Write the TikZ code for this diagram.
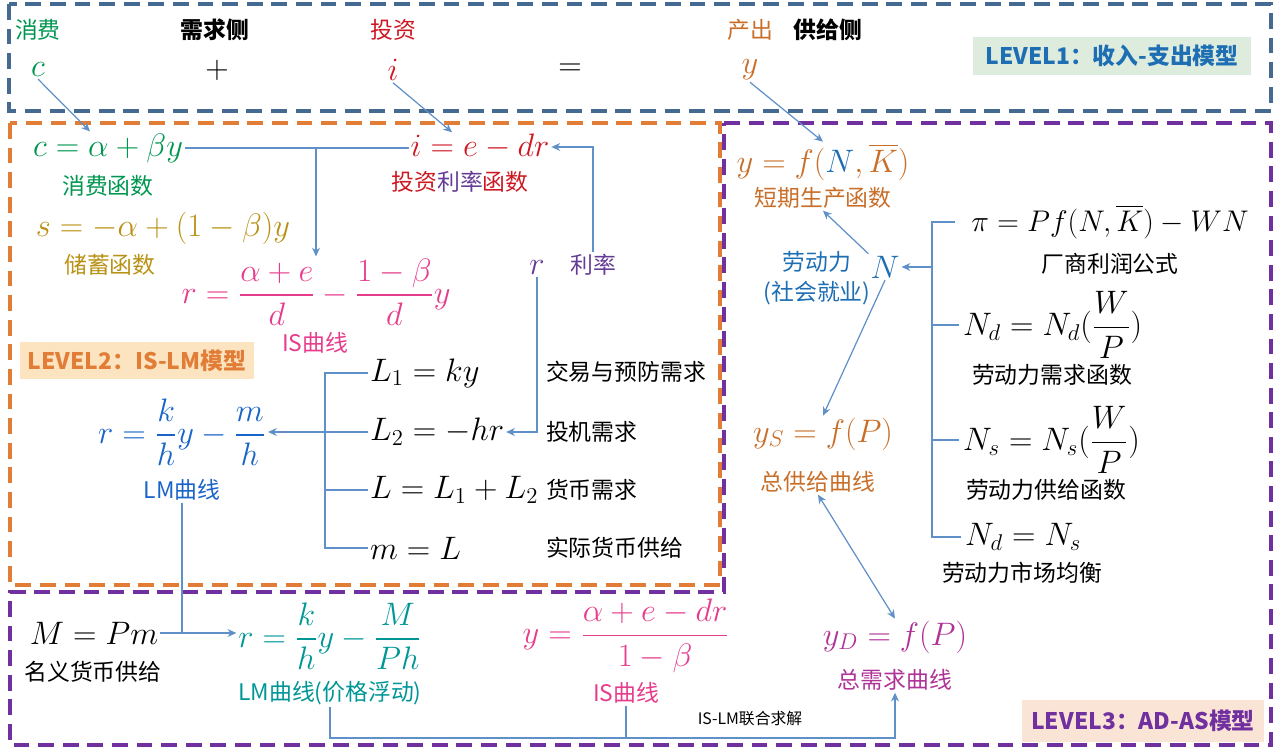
\RequirePackage{fix-cm}
\documentclass[tikz,border=0pt]{standalone}
\usepackage{amsmath}
\usepackage[no-math]{fontspec}
\setmainfont{Noto Sans CJK SC}
\usetikzlibrary{arrows.meta}

\definecolor{cgreen}{RGB}{0,150,80}
\definecolor{ired}{RGB}{205,25,35}
\definecolor{sgold}{RGB}{185,145,20}
\definecolor{ispink}{RGB}{230,60,140}
\definecolor{rpurple}{RGB}{100,60,150}
\definecolor{lmblue}{RGB}{25,100,200}
\definecolor{lmteal}{RGB}{0,150,150}
\definecolor{yorange}{RGB}{200,110,40}
\definecolor{nblue}{RGB}{30,110,180}
\definecolor{admag}{RGB}{175,50,150}
\definecolor{linkc}{RGB}{95,145,200}
\definecolor{lvonec}{RGB}{68,106,145}
\definecolor{lvtwoc}{RGB}{225,125,55}
\definecolor{lvthreec}{RGB}{112,48,160}
\definecolor{lvonebg}{RGB}{222,236,222}
\definecolor{lvonetxt}{RGB}{30,110,180}
\definecolor{lvtwobg}{RGB}{252,228,192}
\definecolor{lvthreebg}{RGB}{250,228,214}

\tikzset{
  >={Stealth[length=5pt,width=4.5pt]},
  zh/.style={font=\fontsize{13}{17}\selectfont, inner sep=1pt},
  zhb/.style={font=\fontsize{13}{17}\selectfont\bfseries, inner sep=1pt},
  fml/.style={font=\fontsize{18.5}{22}\selectfont, inner sep=1pt},
  link/.style={draw=linkc, line width=0.7pt},
  arr/.style={link, ->},
  darr/.style={link, <->},
  lvl/.style={font=\fontsize{13}{15}\selectfont\bfseries, inner sep=0pt},
  lvbox/.style={line width=1.8pt, dash pattern=on 9pt off 5pt},
}

\begin{document}
\begin{tikzpicture}[x=0.02cm, y=-0.02cm]
\useasboundingbox (0,0) rectangle (1276,749);

% frames
\draw[lvbox, draw=lvonec] (9,4) rectangle (1271,111);
\draw[lvbox, draw=lvtwoc] (10,123) rectangle (720,585);
\draw[lvbox, draw=lvthreec] (724,123) -- (1271,123) -- (1271,745) -- (10,745) -- (10,592) -- (724,592) -- cycle;

\node[lvl, fill=lvonebg, text=lvonetxt, minimum width=5.58cm, minimum height=0.76cm] (lvone) at (1112,56) {LEVEL1：收入-支出模型};
\node[lvl, fill=lvtwobg, text=lvtwoc, minimum width=4.7cm, minimum height=0.74cm] (lvtwo) at (137,361) {LEVEL2：IS-LM模型};
\node[lvl, fill=lvthreebg, text=lvthreec, minimum width=4.86cm, minimum height=0.84cm] (lvthree) at (1143,721) {LEVEL3：AD-AS模型};

% level 1
\node[zh, text=cgreen] (cword) at (38,30) {消费};
\node[zhb] (demand) at (215,30) {需求侧};
\node[zh, text=ired] (iword) at (393,30) {投资};
\node[zh, text=yorange] (yword) at (750,30) {产出};
\node[zhb] (supply) at (828,30) {供给侧};
\node[fml, text=cgreen] (c) at (38,70) {$c$};
\node[fml] (plus) at (217,70) {$+$};
\node[fml, text=ired] (i) at (393,70) {$i$};
\node[fml] (eq) at (570,70) {$=$};
\node[fml, text=yorange] (y) at (750,70) {$y$};

% level 2
\node[fml, text=cgreen] (cfun) at (108,148) {$c = \alpha + \beta y$};
\node[zh, text=cgreen] (cname) at (108,186) {消费函数};
\node[fml, text=sgold] (sfun) at (163,228) {$s = -\alpha + (1-\beta)y$};
\node[zh, text=sgold] (sname) at (110,265) {储蓄函数};
\node[fml, text=ired] (ifun) at (480,147) {$i = e - dr$};
\node[zh, text=ired] (iname) at (460,182) {投资{\color{rpurple}利率}函数};
\node[fml, text=ispink] (is) at (316,292) {$r = \dfrac{\alpha+e}{d} - \dfrac{1-\beta}{d}y$};
\node[zh, text=ispink] (isname) at (315,343) {IS曲线};
\node[fml, text=rpurple] (rsym) at (537,268) {$r$};
\node[zh, text=rpurple] (rate) at (593,265) {利率};
\node[fml, text=lmblue] (lm) at (182,432) {$r = \dfrac{k}{h}y - \dfrac{m}{h}$};
\node[zh, text=lmblue] (lmname) at (182,490) {LM曲线};
\node[fml, anchor=west] (Lone) at (368,373) {$L_1 = ky$};
\node[fml, anchor=west] (Ltwo) at (368,432) {$L_2 = -hr$};
\node[fml, anchor=west] (Lsum) at (368,490) {$L = L_1 + L_2$};
\node[fml, anchor=west] (mL) at (368,548) {$m = L$};
\node[zh, anchor=west] (Lonename) at (544,372) {交易与预防需求};
\node[zh, anchor=west] (Ltwoname) at (544,432) {投机需求};
\node[zh, anchor=west] (Lsumname) at (544,490) {货币需求};
\node[zh, anchor=west] (mLname) at (544,548) {实际货币供给};

% level 3, labour market
\node[fml, text=yorange] (prod) at (823,162) {$y = f(\textcolor{nblue}{N},\overline{K})$};
\node[zh, text=yorange] (prodname) at (823,198) {短期生产函数};
\node[zh, text=nblue, align=center] (labor) at (817,278) {劳动力\\(社会就业)};
\node[fml, text=nblue] (N) at (885,267) {$N$};
\node[fml, text=yorange] (ys) at (823,434) {$y_S = f(P)$};
\node[zh, text=yorange] (asname) at (818,482) {总供给曲线};
\node[fml, font=\fontsize{17}{20}\selectfont] (pi) at (1110,222) {$\pi = Pf(N,\overline{K}) - WN$};
\node[zh] (piname) at (1110,264) {厂商利润公式};
\node[fml, anchor=west] (nd) at (961,325) {$N_d = N_d(\dfrac{W}{P})$};
\node[zh] (ndname) at (1052,375) {劳动力需求函数};
\node[fml, anchor=west] (ns) at (961,440) {$N_s = N_s(\dfrac{W}{P})$};
\node[zh] (nsname) at (1046,490) {劳动力供给函数};
\node[fml, anchor=west] (eqm) at (963,537) {$N_d = N_s$};
\node[zh] (eqmname) at (1022,573) {劳动力市场均衡};

% level 3, bottom
\node[fml] (mpm) at (94,633) {$M = Pm$};
\node[zh] (mpmname) at (93,672) {名义货币供给};
\node[fml, text=lmteal] (lmp) at (330,636) {$r = \dfrac{k}{h}y - \dfrac{M}{Ph}$};
\node[zh, text=lmteal] (lmpname) at (330,693) {LM曲线(价格浮动)};
\node[fml, text=ispink] (isy) at (626,636) {$y = \dfrac{\alpha+e-dr}{1-\beta}$};
\node[zh, text=ispink] (isyname) at (626,693) {IS曲线};
\node[fml, text=admag] (yd) at (895,637) {$y_D = f(P)$};
\node[zh, text=admag] (adname) at (895,680) {总需求曲线};
\node[font=\fontsize{9}{11}\selectfont] (joint) at (750,719) {IS-LM联合求解};

% connectors
\draw[arr] (c.south) -- ([shift={(-18,0)}]cfun.north);
\draw[arr] (i.south) -- ([shift={(-28,0)}]ifun.north);
\draw[arr] (y.south) -- (prod.north);
\draw[link] (cfun.east) -- (cfun.east -| ifun.west);
\draw[arr] (is.north |- cfun.east) -- (is.north);
\draw[arr] (rate.north) |- (ifun.east);
\draw[arr] (rsym.south) |- (Ltwo.east);
\coordinate (lmk) at (325,432);
\draw[link] (Lone.west) -| (lmk) |- (mL.west);
\draw[link] (Ltwo.west) -- (lmk |- Ltwo.west);
\draw[link] (Lsum.west) -- (lmk |- Lsum.west);
\draw[arr] (lmk |- Ltwo.west) -- (lm.east |- Ltwo.west);

\coordinate (nk) at (932,267);
\draw[link, shorten <=8pt, shorten >=1pt] (pi.west) -| (nk) |- (eqm.west);
\draw[link, shorten >=1pt] (nk |- nd.west) -- (nd.west);
\draw[link, shorten >=1pt] (nk |- ns.west) -- (ns.west);
\draw[arr] (nk) -- (N.east);
\draw[arr] (N.north west) -- (prodname.south);
\draw[arr] (N.south) -- (ys.north);
\draw[darr] (asname.south) -- (yd.north);

\draw[arr] (mpm.east) -- (mpm.east -| lmp.west);
\draw[link] (lmname.south) -- (lmname.south |- mpm.east);
\coordinate (bot) at (0,738);
\draw[arr] (lmpname.south) -- (lmpname.south |- bot) -| (adname.south);
\draw[link] (isyname.south) -- (isyname.south |- bot);
\end{tikzpicture}
\end{document}
